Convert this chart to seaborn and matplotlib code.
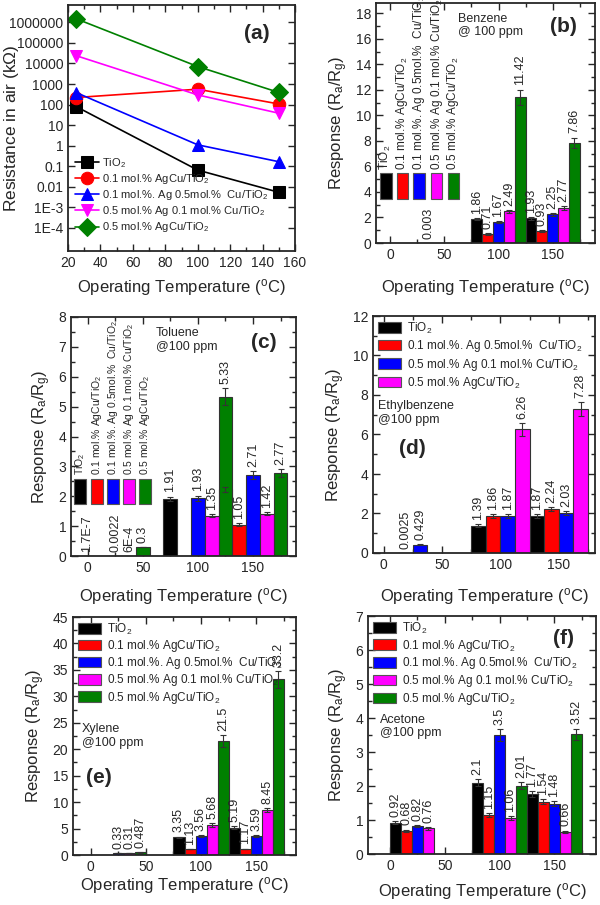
import pandas as pd
import seaborn as sns
import matplotlib
matplotlib.use('Agg')
import matplotlib.pyplot as plt
from matplotlib.patches import Patch, Rectangle
from matplotlib.ticker import MultipleLocator, FixedLocator, FixedFormatter, NullLocator

sns.set_style('ticks')
plt.rcParams.update({
    'font.family': ['Liberation Sans', 'DejaVu Sans'],
    'mathtext.default': 'regular',
    'font.size': 10,
    'axes.linewidth': 1.3,
    'xtick.labelsize': 10,
    'ytick.labelsize': 10,
    'axes.labelsize': 12,
})

W, H = 600, 905

samples = [r'TiO$_2$',
           r'0.1 mol.% AgCu/TiO$_2$',
           r'0.1 mol.%. Ag 0.5mol.%  Cu/TiO$_2$',
           r'0.5 mol.% Ag 0.1 mol.% Cu/TiO$_2$',
           r'0.5 mol.% AgCu/TiO$_2$']
colors = ['#000000', '#ff0000', '#0000ff', '#ff00ff', '#008000']
temps = [25, 100, 150]

# (a) resistance in air, kOhm
a_res = [[80, 0.065, 0.0054],
         [220, 560, 107],
         [385, 1.1, 0.166],
         [24000, 295, 38],
         [1.5e6, 7100, 390]]
a_yticks = [1e-4, 1e-3, 1e-2, 1e-1, 1, 10, 100, 1e3, 1e4, 1e5, 1e6]
a_ylabels = ['1E-4', '1E-3', '0.01', '0.1', '1', '10', '100', '1000',
             '10000', '100000', '1000000']

# (b) benzene  (rows = samples, cols = temps)
b_val = [[None, 1.86, 1.93], [None, 0.71, 0.93], [None, 1.67, 2.25],
         [0.003, 2.49, 2.77], [None, 11.42, 7.86]]
b_err = [[0, 0.08, 0.10], [0, 0.05, 0.05], [0, 0.07, 0.10],
         [0, 0.12, 0.15], [0, 0.60, 0.40]]
b_txt = [['', '1.86', '1.93'], ['', '0.71', '0.93'], ['', '1.67', '2.25'],
         ['0.003', '2.49', '2.77'], ['', '11.42', '7.86']]

# (c) toluene
c_val = [[1.7e-7, 1.91, 2.23], [None, None, 1.05], [0.0022, 1.93, 2.71],
         [6e-4, 1.35, 1.42], [0.3, 5.33, 2.77]]
c_err = [[0, 0.08, 0.08], [0, 0, 0.05], [0, 0.09, 0.12],
         [0, 0.06, 0.06], [0.01, 0.28, 0.13]]
c_txt = [['1.7E-7', '1.91', ''], ['', '', '1.05'], ['0.0022', '1.93', '2.71'],
         ['6E-4', '1.35', '1.42'], ['0.3', '5.33', '2.77']]

# (d) ethylbenzene (4 samples)
d_names = [samples[0], samples[2], samples[3], samples[4]]
d_val = [[None, 1.39, 1.87], [0.0025, 1.86, 2.24], [0.429, 1.87, 2.03],
         [None, 6.26, 7.28]]
d_err = [[0, 0.06, 0.08], [0, 0.10, 0.10], [0.02, 0.10, 0.10],
         [0, 0.32, 0.36]]
d_txt = [['', '1.39', '1.87'], ['0.0025', '1.86', '2.24'],
         ['0.429', '1.87', '2.03'], ['', '6.26', '7.28']]

# (e) xylene
e_val = [[None, 3.35, 5.19], [None, 1.13, 1.17], [0.33, 3.56, 3.59],
         [0.31, 5.68, 8.45], [0.487, 21.5, 33.2]]
e_err = [[0, 0.12, 0.2], [0, 0.05, 0.05], [0.02, 0.2, 0.2],
         [0.02, 0.3, 0.4], [0.03, 1.1, 1.6]]
e_txt = [['', '3.35', '5.19'], ['', '1.13', '1.17'], ['0.33', '3.56', '3.59'],
         ['0.31', '5.68', '8.45'], ['0.487', '21.5', '33.2']]

# (f) acetone
f_val = [[0.92, 2.1, 1.77], [0.68, 1.15, 1.54], [0.82, 3.5, 1.48],
         [0.76, 1.06, 0.66], [None, 2.01, 3.52]]
f_err = [[0.04, 0.1, 0.08], [0.04, 0.06, 0.08], [0.04, 0.17, 0.07],
         [0.04, 0.06, 0.03], [0, 0.1, 0.17]]
f_txt = [['0.92', '2.1', '1.77'], ['0.68', '1.15', '1.54'],
         ['0.82', '3.5', '1.48'], ['0.76', '1.06', '0.66'],
         ['', '2.01', '3.52']]


def rect(l, r, t, b):
    return [l / W, 1 - b / H, (r - l) / W, (b - t) / H]


def style_ax(ax):
    ax.tick_params(which='both', direction='in', top=True, right=True, width=1)
    ax.tick_params(which='major', length=5)
    ax.tick_params(which='minor', length=3)


def bar_panel(ax, names, pal, vals, errs, txts, width):
    rows = []
    for s, vr, er, tr in zip(names, vals, errs, txts):
        for T, v, e, t in zip(temps, vr, er, tr):
            if v is not None:
                rows.append((T, s, v, e, t))
    df = pd.DataFrame(rows, columns=['temp', 'sample', 'resp', 'err', 'txt'])
    sns.barplot(data=df, x='temp', y='resp', hue='sample', hue_order=names,
                palette=dict(zip(names, pal)), native_scale=True, width=width,
                errorbar=None, saturation=1, edgecolor='#333333', linewidth=0.8,
                legend=False, orient='x', ax=ax)
    bars = list(ax.containers)
    for cont, s in zip(bars, names):
        sub = df[df['sample'] == s].sort_values('temp')
        for bar, (_, r) in zip(cont, sub.iterrows()):
            xc = bar.get_x() + bar.get_width() / 2
            h = bar.get_height()
            if r.err > 0:
                ax.errorbar(xc, h, yerr=r.err, color='#333333', capsize=2.5,
                            lw=0.8, capthick=0.8)
            if r.txt:
                ax.annotate(r.txt, (xc, h + r.err), xytext=(0, 3),
                            textcoords='offset points', rotation=90,
                            ha='center', va='bottom', fontsize=9)
    ax.set_xticks([0, 50, 100, 150])
    ax.xaxis.set_minor_locator(MultipleLocator(25))
    ax.set_xlabel(r'Operating Temperature ($^o$C)')
    ax.set_ylabel(r'Response (R$_a$/R$_g$)')
    style_ax(ax)


def rot_legend(ax, xs, y0, y1, w, fs):
    for x, c, s in zip(xs, colors, samples):
        ax.add_patch(Rectangle((x, y0), w, y1 - y0, transform=ax.transAxes,
                               facecolor=c, edgecolor='#555555', lw=0.8))
        ax.text(x + w / 2, y1 + 0.015, s, transform=ax.transAxes, rotation=90,
                ha='center', va='bottom', fontsize=fs)


def box_legend(ax, names, pal, fs=8.5, spacing=0.15):
    handles = [Patch(facecolor=c, edgecolor='#555555', lw=0.8) for c in pal]
    ax.legend(handles, names, loc='upper left', frameon=False, fontsize=fs,
              handlelength=1.95, handleheight=1.0, handletextpad=0.5,
              labelspacing=spacing, borderaxespad=0.2, borderpad=0.2)


fig = plt.figure(figsize=(W / 100, H / 100), dpi=100)

# ---- (a)
ax = fig.add_axes(rect(68, 295, 5, 251))
rows = [(T, s, v) for s, vr in zip(samples, a_res) for T, v in zip(temps, vr)]
dfa = pd.DataFrame(rows, columns=['temp', 'sample', 'res'])
sns.lineplot(data=dfa, x='temp', y='res', hue='sample', hue_order=samples,
             palette=dict(zip(samples, colors)), style='sample',
             markers=dict(zip(samples, ['s', 'o', '^', 'v', 'D'])), dashes=False,
             markersize=9, markeredgecolor=None, linewidth=1.2, errorbar=None,
             legend=False, ax=ax)
ax.set_yscale('log')
ax.set_ylim(7.5e-6, 7e6)
ax.set_xlim(20, 160)
ax.yaxis.set_major_locator(FixedLocator(a_yticks))
ax.yaxis.set_major_formatter(FixedFormatter(a_ylabels))
ax.yaxis.set_minor_locator(NullLocator())
ax.xaxis.set_major_locator(MultipleLocator(20))
ax.xaxis.set_minor_locator(MultipleLocator(10))
style_ax(ax)
ax.set_xlabel(r'Operating Temperature ($^o$C)', labelpad=5)
ax.set_ylabel(r'Resistance in air (k$\Omega$)', fontsize=12.5)
ax.yaxis.set_label_coords(-0.205, 0.5)
ax.legend(ax.lines[:5], samples, loc='lower left', bbox_to_anchor=(0.0, 0.04),
          frameon=False, fontsize=8, handlelength=2.2, labelspacing=0.2,
          handletextpad=0.3, borderaxespad=0.2)
ax.text(0.83, 0.886, '(a)', transform=ax.transAxes, fontsize=15,
        fontweight='bold', ha='center', va='center')

# ---- (b)
ax = fig.add_axes(rect(376, 595, 3, 243))
bar_panel(ax, samples, colors, b_val, b_err, b_txt, 1.0)
ax.set_xlim(-13, 189)
ax.set_ylim(0, 18.8)
ax.yaxis.set_major_locator(MultipleLocator(2))
ax.yaxis.set_minor_locator(MultipleLocator(1))
ax.xaxis.labelpad = 11
rot_legend(ax, [0.018, 0.094, 0.169, 0.250, 0.327], 0.184, 0.29, 0.053, 8.5)
ax.text(0.374, 0.96, 'Benzene\n@ 100 ppm', transform=ax.transAxes,
        fontsize=9, va='top', ha='left')
ax.text(0.856, 0.90, '(b)', transform=ax.transAxes, fontsize=15,
        fontweight='bold', ha='center', va='center')

# ---- (c)
ax = fig.add_axes(rect(71, 296, 317, 556))
bar_panel(ax, samples, colors, c_val, c_err, c_txt, 1.25)
ax.set_xlim(-15, 189)
ax.set_ylim(0, 8)
ax.yaxis.set_major_locator(MultipleLocator(1))
ax.yaxis.set_minor_locator(MultipleLocator(0.5))
ax.xaxis.labelpad = 8
rot_legend(ax, [0.013, 0.088, 0.161, 0.232, 0.304], 0.216, 0.324, 0.053, 7.5)
ax.text(0.378, 0.958, 'Toluene\n@100 ppm', transform=ax.transAxes,
        fontsize=9, va='top', ha='left')
ax.text(0.856, 0.895, '(c)', transform=ax.transAxes, fontsize=15,
        fontweight='bold', ha='center', va='center')

# ---- (d)
ax = fig.add_axes(rect(373, 595, 316, 553))
d_pal = colors[:4]
bar_panel(ax, d_names, d_pal, d_val, d_err, d_txt, 1.0)
ax.set_xlim(-9, 181)
ax.set_ylim(0, 12)
ax.yaxis.set_major_locator(MultipleLocator(2))
ax.yaxis.set_minor_locator(MultipleLocator(1))
ax.xaxis.labelpad = 10
box_legend(ax, d_names, d_pal, spacing=0.2)
ax.text(0.023, 0.645, 'Ethylbenzene\n@100 ppm', transform=ax.transAxes,
        fontsize=9, va='top', ha='left')
ax.text(0.178, 0.443, '(d)', transform=ax.transAxes, fontsize=15,
        fontweight='bold', ha='center', va='center')

# ---- (e)
ax = fig.add_axes(rect(73, 296, 617, 855))
bar_panel(ax, samples, colors, e_val, e_err, e_txt, 1.0)
ax.set_xlim(-16, 186)
ax.set_ylim(0, 45)
ax.yaxis.set_major_locator(MultipleLocator(5))
ax.yaxis.set_minor_locator(MultipleLocator(2.5))
ax.xaxis.labelpad = 1
box_legend(ax, samples, colors, spacing=0.1)
ax.text(0.04, 0.555, 'Xylene\n@100 ppm', transform=ax.transAxes,
        fontsize=9, va='top', ha='left')
ax.text(0.114, 0.326, '(e)', transform=ax.transAxes, fontsize=15,
        fontweight='bold', ha='center', va='center')

# ---- (f)
ax = fig.add_axes(rect(368, 596, 616, 854))
bar_panel(ax, samples, colors, f_val, f_err, f_txt, 1.0)
ax.set_xlim(-20, 188)
ax.set_ylim(0, 7)
ax.yaxis.set_major_locator(MultipleLocator(1))
ax.yaxis.set_minor_locator(MultipleLocator(0.5))
ax.xaxis.labelpad = 6
box_legend(ax, samples, colors, spacing=0.15)
ax.text(0.053, 0.59, 'Acetone\n@100 ppm', transform=ax.transAxes,
        fontsize=9, va='top', ha='left')
ax.text(0.857, 0.905, '(f)', transform=ax.transAxes, fontsize=15,
        fontweight='bold', ha='center', va='center')

fig.savefig('out.png', dpi=100)
